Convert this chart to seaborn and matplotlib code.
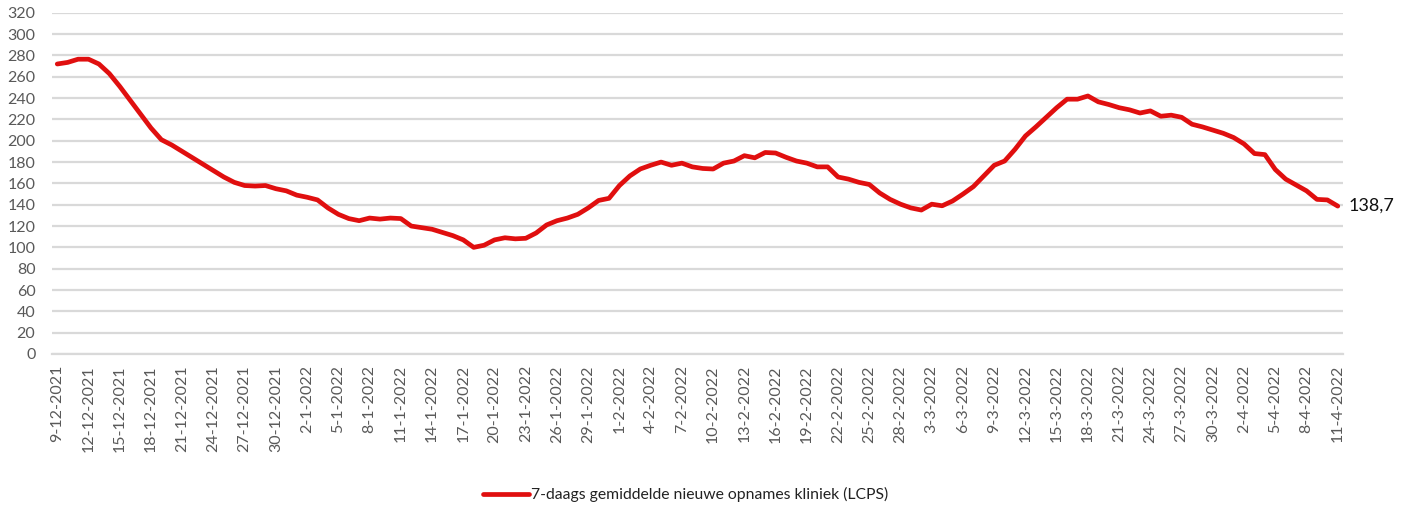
import numpy as np
import pandas as pd
import matplotlib
matplotlib.use("Agg")
import matplotlib.pyplot as plt
import seaborn as sns

# ---- data ----
values = [
    272, 273.5, 276.5, 276.5, 272, 263, 251, 238, 225, 212,
    201, 196, 190, 184, 178, 172, 166, 161, 158, 157.5,
    158, 155, 153, 149, 147, 144.5, 137, 131, 127, 125,
    127.5, 126.5, 127.5, 127, 120, 118.5, 117, 114, 111, 107,
    100, 102, 107, 109, 108, 108.5, 113.5, 121, 125, 127.5,
    131, 137, 144, 146, 158, 167, 173.5, 177, 180, 177,
    179, 175.5, 174, 173.5, 179, 181, 186, 184, 189, 188.5,
    184.5, 181, 179, 175.5, 175.5, 166, 164, 161, 159, 151,
    145, 140.5, 137, 135, 140.5, 139, 143.5, 150, 157, 167,
    177, 181, 192, 204.5, 213, 222, 231, 239, 239, 242,
    236.5, 234, 231, 229, 226, 228, 223, 224, 222, 215.5,
    213, 210, 207, 203, 197, 188, 187, 173, 164, 158.5,
    153, 145, 144.5, 138.7,
]
tick_labels = [
    "9-12-2021", "12-12-2021", "15-12-2021", "18-12-2021", "21-12-2021",
    "24-12-2021", "27-12-2021", "30-12-2021", "2-1-2022", "5-1-2022",
    "8-1-2022", "11-1-2022", "14-1-2022", "17-1-2022", "20-1-2022",
    "23-1-2022", "26-1-2022", "29-1-2022", "1-2-2022", "4-2-2022",
    "7-2-2022", "10-2-2022", "13-2-2022", "16-2-2022", "19-2-2022",
    "22-2-2022", "25-2-2022", "28-2-2022", "3-3-2022", "6-3-2022",
    "9-3-2022", "12-3-2022", "15-3-2022", "18-3-2022", "21-3-2022",
    "24-3-2022", "27-3-2022", "30-3-2022", "2-4-2022", "5-4-2022",
    "8-4-2022", "11-4-2022",
]
series_name = "7-daags gemiddelde nieuwe opnames kliniek (LCPS)"
last_label = "138,7"
y_ticks = list(range(0, 321, 20))

df = pd.DataFrame({"day": np.arange(len(values)), "value": values})

sns.set_theme(style="white")
plt.rcParams["font.family"] = ["Lato", "DejaVu Sans"]

RED = "#E00F0F"
GRID = "#D9D9D9"
TXT = "#595959"

fig = plt.figure(figsize=(14.07, 5.13), dpi=100)
ax = fig.add_axes([0.037, 0.31, 0.9175, 0.665])

sns.lineplot(data=df, x="day", y="value", ax=ax, color=RED, linewidth=3.4,
             label=series_name, solid_capstyle="round", solid_joinstyle="round")

ax.set_xlim(-0.5, len(values) - 0.5)
ax.set_ylim(0, 320)
ax.set_yticks(y_ticks)
ax.yaxis.grid(True, color=GRID, linewidth=1.6)
ax.set_axisbelow(True)
ax.tick_params(axis="y", length=0, labelsize=11.5, labelcolor=TXT, pad=12)

major = list(range(0, len(values), 3))
ax.set_xticks(major)
ax.set_xticklabels(tick_labels, rotation=90, fontsize=11.5, color=TXT)
ax.set_xticks([m - 0.5 for m in major] + [len(values) - 0.5], minor=True)
ax.tick_params(axis="x", which="major", length=0, pad=8)
ax.tick_params(axis="x", which="minor", length=5, color=GRID, width=1.2, direction="out")

for s in ["top", "right", "left"]:
    ax.spines[s].set_visible(False)
ax.spines["bottom"].set_color(GRID)
ax.spines["bottom"].set_linewidth(1.6)
ax.set_xlabel("")
ax.set_ylabel("")

ax.annotate(last_label, xy=(len(values) - 1, values[-1]), xytext=(8, 0),
            textcoords="offset points", va="center", ha="left",
            fontsize=13, color="#111111", annotation_clip=False)

leg = ax.legend(loc="center", bbox_to_anchor=(0.491, -0.413), frameon=False,
                fontsize=11.3, handlelength=2.9, handletextpad=0.15)
for t in leg.get_texts():
    t.set_color("#222222")

fig.savefig("out.png", dpi=100)
